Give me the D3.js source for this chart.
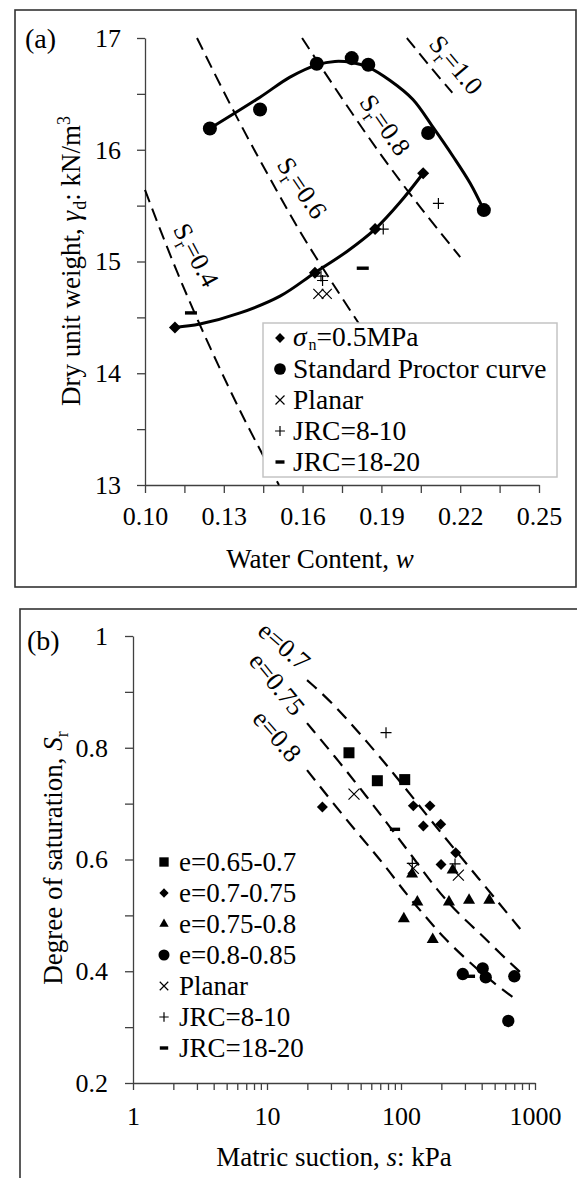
<!DOCTYPE html>
<html>
<head>
<meta charset="utf-8">
<script src="https://cdn.jsdelivr.net/npm/d3@7"></script>
<style>
  body { margin: 0; background: #fff; }
  svg text { font-family: "Liberation Serif", "Times New Roman", serif; fill: #000; }
</style>
</head>
<body>
<svg id="chart" width="577" height="1178"></svg>
<script>
// ---------- panel (a): compaction ----------
var aTickX = [0.10, 0.13, 0.16, 0.19, 0.22, 0.25];
var aTickY = [13, 14, 15, 16, 17];

// standard Proctor points + trend line
var proctorW = [0.1247, 0.1438, 0.1654, 0.1787, 0.1850, 0.2078, 0.2290];
var proctorG = [16.19, 16.36, 16.77, 16.82, 16.76, 16.15, 15.46];
var proctorFitW = [0.1247, 0.1438, 0.1552, 0.1655, 0.1723, 0.1788, 0.1849, 0.1933, 0.2020, 0.2097, 0.2173, 0.2238, 0.2290];
var proctorFitG = [16.19, 16.47, 16.65, 16.76, 16.79, 16.78, 16.74, 16.62, 16.45, 16.20, 15.94, 15.70, 15.46];

// sigma_n = 0.5 MPa specimens
var sigmaW = [0.1114, 0.1647, 0.1876, 0.2059];
var sigmaG = [14.41, 14.90, 15.29, 15.79];
var sigmaFitW = [0.1114, 0.1209, 0.1362, 0.1514, 0.1647, 0.1769, 0.1876, 0.1971, 0.2059];
var sigmaFitG = [14.41, 14.44, 14.54, 14.69, 14.90, 15.09, 15.29, 15.53, 15.79];

var planarAW = [0.1660, 0.1692];
var planarAG = [14.71, 14.71];
var jrc810AW = [0.1670, 0.1676, 0.1907, 0.2117];
var jrc810AG = [14.87, 14.83, 15.29, 15.52];
var jrc1820AW = [0.1175, 0.1829];
var jrc1820AG = [14.54, 14.94];

// degree-of-saturation guide lines
var srLabels = ["0.4", "0.6", "0.8", "1.0"];
var srW = [
  [0.100, 0.112, 0.125, 0.138, 0.151],
  [0.1198, 0.135, 0.150, 0.165, 0.190],
  [0.1598, 0.175, 0.190, 0.205, 0.220],
  [0.1997, 0.208, 0.217]
];
var srG = [
  [15.64, 14.92, 14.22, 13.58, 13.00],
  [17.00, 16.29, 15.64, 15.04, 14.14],
  [17.00, 16.46, 15.95, 15.48, 15.04],
  [17.00, 16.76, 16.51]
];

var legendA = ["σn=0.5MPa", "Standard Proctor curve", "Planar", "JRC=8-10", "JRC=18-20"];

// ---------- panel (b): suction ----------
var bTickX = [1, 10, 100, 1000];
var bTickY = [0.2, 0.4, 0.6, 0.8, 1];

var sqS = [40.9, 66.6, 106.6];
var sqSr = [0.791, 0.741, 0.743];
var diS = [25.9, 123.6, 164.5, 146.8, 197.8, 256, 199];
var diSr = [0.694, 0.696, 0.696, 0.660, 0.663, 0.612, 0.591];
var trS = [121, 243, 132.4, 228, 322, 456, 105, 172.5];
var trSr = [0.574, 0.581, 0.524, 0.524, 0.527, 0.527, 0.494, 0.457];
var ciS = [289, 407, 429, 701, 632];
var ciSr = [0.395, 0.405, 0.389, 0.391, 0.311];
var planarBS = [44.6, 123.6, 268];
var planarBSr = [0.717, 0.584, 0.572];
var jrc810BS = [77.3, 121.4, 253];
var jrc810BSr = [0.827, 0.593, 0.592];
var jrc1820BS = [90.2, 327];
var jrc1820BSr = [0.654, 0.391];

var eLabels = ["e=0.7", "e=0.75", "e=0.8"];
var eS = [
  [19.9, 29.5, 52.1, 87.1, 173.3, 388.7, 786],
  [19.9, 35.1, 55.7, 82.8, 122.9, 185.6, 275.6, 388.7, 548, 786],
  [19.9, 31.1, 49.4, 73.4, 110.9, 156.3, 205.8, 310.9, 461.5, 734]
];
var eSr = [
  [0.921, 0.885, 0.819, 0.756, 0.665, 0.563, 0.474],
  [0.844, 0.773, 0.712, 0.658, 0.604, 0.545, 0.500, 0.468, 0.432, 0.397],
  [0.760, 0.701, 0.642, 0.594, 0.536, 0.495, 0.461, 0.420, 0.384, 0.348]
];

var legendB = ["e=0.65-0.7", "e=0.7-0.75", "e=0.75-0.8", "e=0.8-0.85", "Planar", "JRC=8-10", "JRC=18-20"];

// ---------- drawing ----------
var FONT = "Liberation Serif, Times New Roman, serif";
var svg = d3.select("#chart");

function zip(a, b) { return a.map(function (v, i) { return [v, b[i]]; }); }

// marker shapes
function drawMark(g, type, x, y, k) {
  k = k || 1;
  if (type == "circle") {
    g.append("circle").attr("cx", x).attr("cy", y).attr("r", 6.5 * k).attr("fill", "#000");
  } else if (type == "square") {
    g.append("rect").attr("x", x - 5.5 * k).attr("y", y - 5.5 * k).attr("width", 11 * k).attr("height", 11 * k).attr("fill", "#000");
  } else if (type == "diamond") {
    g.append("path").attr("d", d3.symbol(d3.symbolSquare, 60 * k * k)())
      .attr("transform", "translate(" + x + "," + y + ") rotate(45)").attr("fill", "#000");
  } else if (type == "triangle") {
    g.append("path").attr("d", d3.symbol(d3.symbolTriangle, 52 * k * k)())
      .attr("transform", "translate(" + x + "," + y + ")").attr("fill", "#000");
  } else if (type == "x") {
    var h = 5 * k;
    g.append("path").attr("d", "M" + (x - h) + "," + (y - h) + "L" + (x + h) + "," + (y + h) + "M" + (x - h) + "," + (y + h) + "L" + (x + h) + "," + (y - h))
      .attr("stroke", "#000").attr("stroke-width", 1.2).attr("fill", "none");
  } else if (type == "plus") {
    var p = 5.5 * k;
    g.append("path").attr("d", "M" + (x - p) + "," + y + "H" + (x + p) + "M" + x + "," + (y - p) + "V" + (y + p))
      .attr("stroke", "#000").attr("stroke-width", 1.2).attr("fill", "none");
  } else if (type == "dash") {
    g.append("rect").attr("x", x - 6 * k).attr("y", y - 1.7).attr("width", 12 * k).attr("height", 3.4).attr("fill", "#000");
  }
}

function styleAxis(g, size) {
  g.attr("font-family", FONT).attr("font-size", size);
  g.selectAll("path.domain").attr("stroke", "#404040").attr("stroke-width", 1.3);
  g.selectAll(".tick line").attr("stroke", "#404040").attr("stroke-width", 1.3);
  g.selectAll(".tick text").attr("fill", "#000");
}

// frames
svg.append("rect").attr("x", 15).attr("y", 10).attr("width", 561).attr("height", 577)
  .attr("fill", "none").attr("stroke", "#333").attr("stroke-width", 1.6);
svg.append("rect").attr("x", 20).attr("y", 609).attr("width", 580).attr("height", 620)
  .attr("fill", "none").attr("stroke", "#333").attr("stroke-width", 1.6);

// ===== panel (a) =====
var xA = d3.scaleLinear().domain([0.10, 0.25]).range([145, 539]);
var yA = d3.scaleLinear().domain([13, 17]).range([485, 38]);
var gA = svg.append("g");

var xAll = aTickX.concat(d3.pairs(aTickX).map(function (p) { return (p[0] + p[1]) / 2; })).sort(d3.ascending);
var yAll = aTickY.concat(d3.pairs(aTickY).map(function (p) { return (p[0] + p[1]) / 2; })).sort(d3.ascending);

var axAx = gA.append("g").attr("transform", "translate(0,485)")
  .call(d3.axisBottom(xA).tickValues(xAll).tickSize(8).tickSizeOuter(0).tickPadding(14)
    .tickFormat(function (d) { return aTickX.some(function (t) { return Math.abs(t - d) < 1e-9; }) ? d.toFixed(2) : ""; }));
styleAxis(axAx, 26);
var ayAx = gA.append("g").attr("transform", "translate(145,0)")
  .call(d3.axisLeft(yA).tickValues(yAll).tickSize(8).tickSizeOuter(0).tickPadding(16)
    .tickFormat(function (d) { return aTickY.indexOf(d) >= 0 ? d : ""; }));
styleAxis(ayAx, 26);

var lineA = d3.line().x(function (d) { return xA(d[0]); }).y(function (d) { return yA(d[1]); });

// Sr guide lines
srW.forEach(function (ws, i) {
  gA.append("path").datum(zip(ws, srG[i]))
    .attr("d", lineA.curve(d3.curveNatural))
    .attr("fill", "none").attr("stroke", "#000").attr("stroke-width", 2).attr("stroke-dasharray", "13,7");
});

// trend curves
gA.append("path").datum(zip(proctorFitW, proctorFitG))
  .attr("d", lineA.curve(d3.curveCatmullRom))
  .attr("fill", "none").attr("stroke", "#000").attr("stroke-width", 3);
gA.append("path").datum(zip(sigmaFitW, sigmaFitG))
  .attr("d", lineA.curve(d3.curveCatmullRom))
  .attr("fill", "none").attr("stroke", "#000").attr("stroke-width", 3);

proctorW.forEach(function (w, i) { drawMark(gA, "circle", xA(w), yA(proctorG[i]), 1.08); });
sigmaW.forEach(function (w, i) { drawMark(gA, "diamond", xA(w), yA(sigmaG[i]), 1.1); });
planarAW.forEach(function (w, i) { drawMark(gA, "x", xA(w), yA(planarAG[i])); });
jrc810AW.forEach(function (w, i) { drawMark(gA, "plus", xA(w), yA(jrc810AG[i])); });
jrc1820AW.forEach(function (w, i) { drawMark(gA, "dash", xA(w), yA(jrc1820AG[i])); });

// Sr labels (rotated along lines)
var srLabelPos = [[196, 255, 62], [302, 188, 56], [385, 125, 55], [456, 65, 50]];
srLabels.forEach(function (t, i) {
  var p = srLabelPos[i];
  var tx = gA.append("text").attr("font-size", 26).attr("text-anchor", "middle")
    .attr("transform", "translate(" + p[0] + "," + (p[1]) + ") rotate(" + p[2] + ")").attr("dy", "0.33em");
  tx.append("tspan").text("S");
  tx.append("tspan").attr("font-size", 18).attr("dy", 6).text("r");
  tx.append("tspan").attr("dy", -6).text("=" + t);
});

// legend (a)
var legA = gA.append("g");
legA.append("rect").attr("x", 263).attr("y", 323).attr("width", 294).attr("height", 154)
  .attr("fill", "#fff").attr("stroke", "#c4c4c4").attr("stroke-width", 1.5);
var legAMarks = ["diamond", "circle", "x", "plus", "dash"];
legendA.forEach(function (t, i) {
  var cy = 338 + i * 31;
  drawMark(legA, legAMarks[i], 280, cy, i == 4 ? 0.75 : 0.9);
  var tx = legA.append("text").attr("x", 293).attr("y", cy + (i == 0 ? 8 : 9)).attr("font-size", 27.5);
  if (i == 0) {
    tx.append("tspan").attr("font-style", "italic").text("σ");
    tx.append("tspan").attr("font-size", 16).attr("dx", 2).attr("dy", 4).text("n");
    tx.append("tspan").attr("dy", -4).text("=0.5MPa");
  } else {
    tx.text(t);
  }
});

// titles (a)
gA.append("text").attr("x", 25).attr("y", 48).attr("font-size", 28).text("(a)");
var ytA = gA.append("text").attr("transform", "translate(80,261) rotate(-90)")
  .attr("text-anchor", "middle").attr("font-size", 27);
ytA.append("tspan").text("Dry unit weight, ");
ytA.append("tspan").attr("font-style", "italic").text("γ");
ytA.append("tspan").attr("font-size", 18).attr("dx", 1).attr("dy", 6).text("d");
ytA.append("tspan").attr("dy", -6).text(": kN/m");
ytA.append("tspan").attr("font-size", 18).attr("dy", -10).text("3");
var xtA = gA.append("text").attr("x", 320).attr("y", 568).attr("text-anchor", "middle").attr("font-size", 27);
xtA.append("tspan").text("Water Content, ");
xtA.append("tspan").attr("font-style", "italic").text("w");

// ===== panel (b) =====
var xB = d3.scaleLog().domain([1, 1000]).range([133, 535]);
var yB = d3.scaleLinear().domain([0.2, 1]).range([1083, 636]);
var gB = svg.append("g");

var xBAll = [];
[1, 10, 100].forEach(function (p) { for (var m = 1; m < 10; m++) xBAll.push(m * p); });
xBAll.push(1000);
var yBAll = bTickY.concat(d3.pairs(bTickY).map(function (p) { return Math.round((p[0] + p[1]) * 50) / 100; })).sort(d3.ascending);

var bxAx = gB.append("g").attr("transform", "translate(0,1083)")
  .call(d3.axisBottom(xB).tickValues(xBAll).tickSize(7).tickSizeOuter(0).tickPadding(17)
    .tickFormat(function (d) { return bTickX.indexOf(d) >= 0 ? d : ""; }));
styleAxis(bxAx, 26);
var byAx = gB.append("g").attr("transform", "translate(133,0)")
  .call(d3.axisLeft(yB).tickValues(yBAll).tickSize(8).tickSizeOuter(0).tickPadding(17)
    .tickFormat(function (d) { return bTickY.indexOf(d) >= 0 ? (d == 1 ? "1" : d.toFixed(1)) : ""; }));
styleAxis(byAx, 26);

var lineB = d3.line().x(function (d) { return xB(d[0]); }).y(function (d) { return yB(d[1]); }).curve(d3.curveBasis);
eS.forEach(function (ss, i) {
  gB.append("path").datum(zip(ss, eSr[i])).attr("d", lineB)
    .attr("fill", "none").attr("stroke", "#000").attr("stroke-width", 2.2).attr("stroke-dasharray", "13,8");
});

sqS.forEach(function (s, i) { drawMark(gB, "square", xB(s), yB(sqSr[i])); });
diS.forEach(function (s, i) { drawMark(gB, "diamond", xB(s), yB(diSr[i])); });
trS.forEach(function (s, i) { drawMark(gB, "triangle", xB(s), yB(trSr[i]), 1.1); });
ciS.forEach(function (s, i) { drawMark(gB, "circle", xB(s), yB(ciSr[i]), 0.95); });
planarBS.forEach(function (s, i) { drawMark(gB, "x", xB(s), yB(planarBSr[i]), 1.1); });
jrc810BS.forEach(function (s, i) { drawMark(gB, "plus", xB(s), yB(jrc810BSr[i])); });
jrc1820BS.forEach(function (s, i) { drawMark(gB, "dash", xB(s), yB(jrc1820BSr[i]), 0.85); });

// e labels
var eLabelPos = [[284, 646, 41], [277, 684, 51], [277, 736, 49]];
eLabels.forEach(function (t, i) {
  var p = eLabelPos[i];
  gB.append("text").attr("font-size", 26).attr("text-anchor", "middle").attr("dy", "0.33em")
    .attr("transform", "translate(" + p[0] + "," + p[1] + ") rotate(" + p[2] + ")").text(t);
});

// legend (b)
var legBMarks = ["square", "diamond", "triangle", "circle", "x", "plus", "dash"];
legendB.forEach(function (t, i) {
  var cy = 862 + i * 31;
  drawMark(gB, legBMarks[i], 164, cy, i == 6 ? 0.7 : 0.85);
  gB.append("text").attr("x", 179).attr("y", cy + 9).attr("font-size", 27).text(t);
});

// titles (b)
gB.append("text").attr("x", 27).attr("y", 650).attr("font-size", 28).text("(b)");
var ytB = gB.append("text").attr("transform", "translate(62,858) rotate(-90)")
  .attr("text-anchor", "middle").attr("font-size", 27);
ytB.append("tspan").text("Degree of saturation, ");
ytB.append("tspan").attr("font-style", "italic").text("S");
ytB.append("tspan").attr("font-size", 18).attr("dy", 6).text("r");
var xtB = gB.append("text").attr("x", 334).attr("y", 1166).attr("text-anchor", "middle").attr("font-size", 27);
xtB.append("tspan").text("Matric suction, ");
xtB.append("tspan").attr("font-style", "italic").text("s");
xtB.append("tspan").text(": kPa");
</script>
</body>
</html>
